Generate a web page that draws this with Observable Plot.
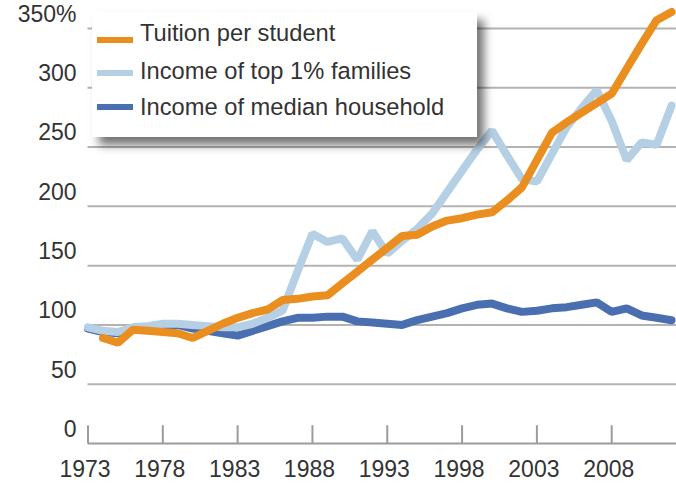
<!DOCTYPE html>
<html>
<head>
<meta charset="utf-8">
<script src="https://cdn.jsdelivr.net/npm/d3@7"></script>
<script src="https://cdn.jsdelivr.net/npm/@observablehq/plot@0.6"></script>
<style>
  html, body { margin: 0; padding: 0; background: #fff; }
  #wrap { position: relative; width: 676px; height: 487px; overflow: hidden; font-family: "Liberation Sans", Arial, sans-serif; }
  #wrap svg { position: absolute; left: 0; top: 0; }
  #legend { position: absolute; left: 92px; top: 12px; width: 385px; height: 125px; background: #fff;
            box-shadow: 7px 8px 9px rgba(0,0,0,0.55); }
  .sw { position: absolute; left: 5px; width: 36px; height: 6px; }
  .lab { position: absolute; left: 48px; font-size: 23.7px; color: #333; white-space: nowrap; line-height: 1; }
</style>
</head>
<body>
<div id="wrap"></div>
<script>
// ---- data ----
const years = [1973,1974,1975,1976,1977,1978,1979,1980,1981,1982,
               1983,1984,1985,1986,1987,1988,1989,1990,1991,1992,
               1993,1994,1995,1996,1997,1998,1999,2000,2001,2002,
               2003,2004,2005,2006,2007,2008,2009,2010,2011,2012];
const seriesNames = ["Tuition per student", "Income of top 1% families", "Income of median household"];
const seriesColors = ["#e98e1f", "#b5d0e4", "#4a6fb0"];
const tuition = [null, 89, 85, 96, 95, 94, 93, 89, 95, 101,
                 106, 110, 113, 121, 122, 124, 125, 135, 145, 155,
                 165, 175, 176, 183, 188, 190, 193, 195, 205, 216,
                 239, 262, 271, 279, 287, 295, 316, 337, 357, 364];
const top1 = [98, 95, 94, 98, 99, 101, 101, 100, 99, 98,
              98, 101, 106, 112, 145, 177, 170, 173, 155, 179,
              160, 171, 181, 194, 212, 230, 248, 264, 243, 223,
              221, 244, 267, 283, 298, 272, 239, 254, 252, 285];
const median = [97, 94, 93, 97, 98, 100, 100, 97, 95, 93,
                91, 95, 99, 103, 106, 106, 107, 107, 103, 102,
                101, 100, 104, 107, 110, 114, 117, 118, 114, 111,
                112, 114, 115, 117, 119, 111, 114, 108, 106, 104];
const yTicks = [0, 50, 100, 150, 200, 250, 300, 350];
const yTickLabels = ["0", "50", "100", "150", "200", "250", "300", "350%"];
const xTicks = [1973, 1978, 1983, 1988, 1993, 1998, 2003, 2008];
const xTickLabels = ["1973", "1978", "1983", "1988", "1993", "1998", "2003", "2008"];

// ---- tables ----
const toRows = (vals) => years.map((y, i) => ({year: y, value: vals[i]})).filter(d => d.value != null);
const yLab = yTicks.map((v, i) => ({v, label: yTickLabels[i]}));
const xLab = xTicks.map((v, i) => ({v, label: xTickLabels[i]}));

const chart = Plot.plot({
  width: 676,
  height: 487,
  marginLeft: 87.5,
  marginRight: 0,
  marginTop: 28,
  marginBottom: 44,
  x: {domain: [1973, 2012.33], axis: null},
  y: {domain: [0, 350], axis: null},
  style: {fontFamily: "Liberation Sans, Arial, sans-serif", background: "white"},
  marks: [
    Plot.ruleY(yTicks.filter(v => v > 0), {stroke: "#b3b3b3", strokeWidth: 2}),
    Plot.ruleY([0], {stroke: "#9c9c9c", strokeWidth: 2}),
    Plot.ruleX(xTicks, {x: d => d, y1: 0, y2: 15, stroke: "#9c9c9c", strokeWidth: 2}),
    Plot.line(toRows(median), {x: "year", y: "value", stroke: seriesColors[2], strokeWidth: 8, strokeLinejoin: "miter", curve: "linear"}),
    Plot.line(toRows(top1), {x: "year", y: "value", stroke: seriesColors[1], strokeWidth: 8, strokeLinejoin: "miter", curve: "linear"}),
    Plot.line(toRows(tuition), {x: "year", y: "value", stroke: seriesColors[0], strokeWidth: 8, strokeLinejoin: "miter", curve: "linear"}),
    Plot.text(yLab, {x: () => 1973, y: "v", text: "label", textAnchor: "end", dx: -11.5, dy: -14, fontSize: 23, fill: "#333", lineAnchor: "middle"}),
    Plot.text(xLab, {x: "v", y: () => 0, text: "label", dx: -3, dy: 26, fontSize: 23, fill: "#333", lineAnchor: "middle"})
  ]
});

const wrap = document.getElementById("wrap");
wrap.appendChild(chart);

// legend (HTML overlay)
const legend = document.createElement("div");
legend.id = "legend";
const swY = [28, 60.5, 94.5];
const txY = [21, 59, 95];
seriesNames.forEach((name, i) => {
  const sw = document.createElement("div");
  sw.className = "sw";
  sw.style.top = (swY[i] - 3) + "px";
  sw.style.background = seriesColors[i];
  legend.appendChild(sw);
  const lab = document.createElement("div");
  lab.className = "lab";
  lab.style.top = (txY[i] - 11.5) + "px";
  lab.textContent = name;
  legend.appendChild(lab);
});
wrap.appendChild(legend);
</script>
</body>
</html>
